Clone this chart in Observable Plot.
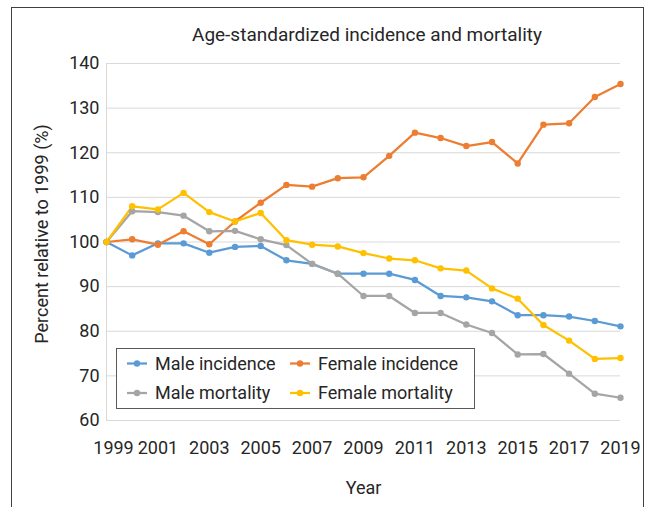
<!DOCTYPE html>
<html>
<head>
<meta charset="utf-8">
<script src="https://cdn.jsdelivr.net/npm/d3@7"></script>
<script src="https://cdn.jsdelivr.net/npm/@observablehq/plot@0.6"></script>
<style>
  html, body { margin: 0; padding: 0; background: #fff; }
  #wrap { position: relative; width: 652px; height: 507px; overflow: hidden; font-family: Roboto, "Noto Sans", sans-serif; color: #262626; }
  #frame { position: absolute; left: 11px; top: 7px; width: 633px; height: 540px; border: 1px solid #404040; box-sizing: border-box; }
  #title { position: absolute; left: 0; top: 25px; width: 734px; text-align: center; font-size: 19px; line-height: 19px; }
  #chart { position: absolute; left: 0; top: 0; }
  #legend { position: absolute; left: 116px; top: 348px; width: 359px; height: 61px; border: 1px solid #595959; box-sizing: border-box; background: #fff; }
</style>
</head>
<body>
<div id="wrap">
  <div id="frame"></div>
  <div id="chart"></div>
  <div id="title"></div>
  <div id="legend"></div>
</div>
<script>
const titleText = "Age-standardized incidence and mortality";
const xLabel = "Year";
const yLabel = "Percent relative to 1999 (%)";

const years = [1999, 2000, 2001, 2002, 2003, 2004, 2005, 2006, 2007, 2008, 2009, 2010,
               2011, 2012, 2013, 2014, 2015, 2016, 2017, 2018, 2019];
const seriesNames = ["Male incidence", "Female incidence", "Male mortality", "Female mortality"];
const seriesColors = ["#5B9BD5", "#ED7D31", "#A5A5A5", "#FFC000"];

const maleIncidence   = [100, 97.0, 99.7, 99.7, 97.6, 98.9, 99.1, 95.9, 95.1, 92.9, 92.9, 92.9, 91.5, 87.9, 87.6, 86.7, 83.6, 83.6, 83.3, 82.3, 81.1];
const femaleIncidence = [100, 100.6, 99.4, 102.4, 99.5, 104.6, 108.8, 112.8, 112.4, 114.3, 114.5, 119.3, 124.5, 123.3, 121.5, 122.4, 117.6, 126.3, 126.6, 132.5, 135.4];
const maleMortality   = [100, 106.9, 106.7, 105.9, 102.4, 102.5, 100.6, 99.3, 95.1, 92.9, 87.9, 87.9, 84.1, 84.1, 81.5, 79.6, 74.8, 74.9, 70.5, 66.0, 65.1];
const femaleMortality = [100, 108.0, 107.3, 111.0, 106.7, 104.6, 106.5, 100.4, 99.4, 99.0, 97.5, 96.3, 95.9, 94.1, 93.6, 89.6, 87.3, 81.4, 77.9, 73.8, 74.0];

const xTicks = [1999, 2001, 2003, 2005, 2007, 2009, 2011, 2013, 2015, 2017, 2019];
const yTicks = [60, 70, 80, 90, 100, 110, 120, 130, 140];

const seriesValues = [maleIncidence, femaleIncidence, maleMortality, femaleMortality];
const data = seriesNames.flatMap((name, i) =>
  years.map((year, j) => ({series: name, year, value: seriesValues[i][j]})));

document.getElementById("title").textContent = titleText;

const chart = Plot.plot({
  width: 652,
  height: 507,
  marginLeft: 106,
  marginRight: 32,
  marginTop: 63,
  marginBottom: 87,
  style: {fontFamily: "Roboto, 'Noto Sans', sans-serif", fontSize: "18px", color: "#262626", background: "transparent", overflow: "visible"},
  x: {domain: [1999, 2019]},
  y: {domain: [60, 140]},
  color: {domain: seriesNames, range: seriesColors},
  marks: [
    Plot.gridY(yTicks, {stroke: "#d9d9d9", strokeOpacity: 1, strokeWidth: 1}),
    Plot.ruleX([1999], {stroke: "#d9d9d9", strokeWidth: 1}),
    Plot.axisY(yTicks, {tickSize: 0, tickPadding: 7, label: null}),
    Plot.text([yLabel], {frameAnchor: "left", rotate: -90, lineAnchor: "top", textAnchor: "middle", dx: -71, dy: -8, fill: "#262626"}),
    Plot.axisX(xTicks.slice(1), {tickSize: 0, tickPadding: 21, tickFormat: d => String(d), label: xLabel, labelAnchor: "center", labelArrow: "none", labelOffset: 73}),
    Plot.axisX([xTicks[0]], {tickSize: 0, tickPadding: 21, tickFormat: d => String(d), dx: 7, label: null}),
    Plot.line(data, {x: "year", y: "value", z: "series", stroke: "series", strokeWidth: 2.25}),
    Plot.dot(data, {x: "year", y: "value", fill: "series", r: 3.2, stroke: "none"})
  ]
});
document.getElementById("chart").appendChild(chart);

// Legend
const lg = d3.select("#legend").append("svg")
  .attr("width", 357).attr("height", 59)
  .style("position", "absolute").style("left", "0px").style("top", "0px")
  .style("font-family", "Roboto, 'Noto Sans', sans-serif").style("font-size", "18px");
const legendPos = [
  {col: 0, row: 0}, {col: 1, row: 0}, {col: 0, row: 1}, {col: 1, row: 1}
];
seriesNames.forEach((name, i) => {
  const p = legendPos[i];
  const gx = p.col === 0 ? 10 : 173;
  const gy = p.row === 0 ? 14.5 : 44;
  const g = lg.append("g").attr("transform", `translate(${gx},${gy})`);
  g.append("line").attr("x1", 0).attr("x2", 20).attr("y1", 0).attr("y2", 0)
    .attr("stroke", seriesColors[i]).attr("stroke-width", 2.25);
  g.append("circle").attr("cx", 10).attr("cy", 0).attr("r", 3.2).attr("fill", seriesColors[i]);
  g.append("text").attr("x", 28).attr("y", 0).attr("dy", "0.35em")
    .attr("fill", "#262626").text(name);
});
</script>
</body>
</html>
